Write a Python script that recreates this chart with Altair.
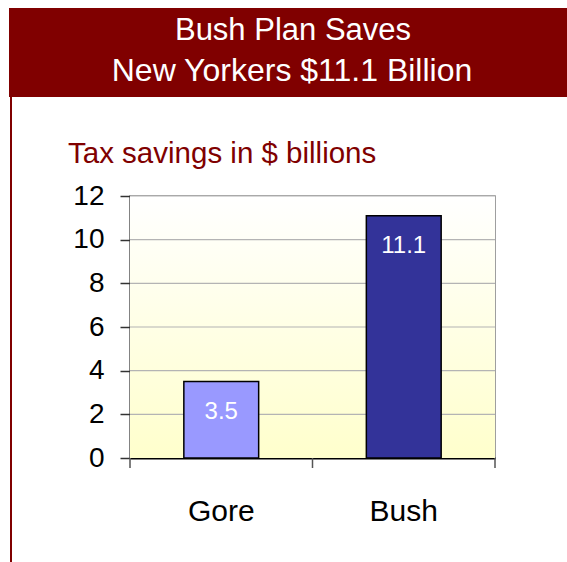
import altair as alt
import pandas as pd

candidates = ["Gore", "Bush"]
savings = [3.5, 11.1]
bar_colors = ["#9999FF", "#333399"]
y_ticks = [0, 2, 4, 6, 8, 10, 12]
title_lines = ["Bush Plan Saves", "New Yorkers $11.1 Billion"]
axis_title = "Tax savings in $ billions"

W, H = 365, 262
FONT = "Liberation Sans"
DARKRED = "#800000"

df = pd.DataFrame({"candidate": candidates, "savings": savings,
                   "label": [f"{v:.1f}" for v in savings]})
grid_df = pd.DataFrame({"savings": y_ticks[1:]})

y_scale = alt.Scale(domain=[0, 12], nice=False)

x_enc = alt.X("candidate:N", sort=candidates,
              scale=alt.Scale(paddingInner=0.59, paddingOuter=0.295),
              axis=alt.Axis(title=None, labelAngle=0, labelFontSize=30, labelFont=FONT,
                            labelColor="black", labelPadding=38, ticks=False,
                            domainColor="black", domainWidth=2))
y_enc = alt.Y("savings:Q", scale=y_scale,
              axis=alt.Axis(title=None, values=y_ticks, labelFontSize=28, labelFont=FONT,
                            labelColor="black", labelPadding=16, tickSize=10,
                            tickColor="#333", domainColor="#333", domainWidth=1.5,
                            grid=False, tickWidth=1.5))

one = pd.DataFrame({"a": [0]})

bg = alt.Chart(one).mark_rect(
    color=alt.Gradient(gradient="linear", x1=0, y1=0, x2=0, y2=1,
                       stops=[alt.GradientStop(offset=0, color="#FFFFFF"),
                              alt.GradientStop(offset=1, color="#FFFFCC")])
).encode(x=alt.value(0), x2=alt.value(W), y=alt.value(0), y2=alt.value(H))

grid = alt.Chart(grid_df).mark_rule(color="#b4b4b4", strokeWidth=1.2).encode(
    y=alt.Y("savings:Q", scale=y_scale), x=alt.value(0), x2=alt.value(W))

bars = alt.Chart(df).mark_bar(stroke="black", strokeWidth=1.5).encode(
    x=x_enc, y=y_enc,
    color=alt.Color("candidate:N", sort=candidates,
                    scale=alt.Scale(domain=candidates, range=bar_colors), legend=None),
)

labels = alt.Chart(df).mark_text(color="white", fontSize=24, font=FONT,
                                 baseline="alphabetic", dy=37).encode(
    x=alt.X("candidate:N", sort=candidates), y=alt.Y("savings:Q"), text="label:N")

# category-boundary ticks below the baseline
tick_l = alt.Chart(one).mark_rule(color="#555", strokeWidth=1.5).encode(
    x=alt.value(0), y=alt.value(H), y2=alt.value(H + 10))
tick_m = alt.Chart(one).mark_rule(color="#555", strokeWidth=1.5).encode(
    x=alt.value(W / 2), y=alt.value(H), y2=alt.value(H + 10))
tick_r = alt.Chart(one).mark_rule(color="#555", strokeWidth=1.5).encode(
    x=alt.value(W), y=alt.value(H), y2=alt.value(H + 10))

banner = alt.Chart(one).mark_rect(color=DARKRED).encode(
    x=alt.value(-121), x2=alt.value(W + 80), y=alt.value(-188), y2=alt.value(-99))

left_line = alt.Chart(one).mark_rule(color=DARKRED, strokeWidth=2).encode(
    x=alt.value(-119), y=alt.value(-99), y2=alt.value(H + 110))

t1 = alt.Chart(pd.DataFrame({"t": [title_lines[0]]})).mark_text(
    color="white", fontSize=31, font=FONT, align="center", baseline="alphabetic").encode(
    x=alt.value(163), y=alt.value(-156), text="t:N")
t2 = alt.Chart(pd.DataFrame({"t": [title_lines[1]]})).mark_text(
    color="white", fontSize=32, font=FONT, align="center", baseline="alphabetic").encode(
    x=alt.value(162), y=alt.value(-115), text="t:N")
yt = alt.Chart(pd.DataFrame({"t": [axis_title]})).mark_text(
    color=DARKRED, fontSize=29.5, font=FONT, align="left", baseline="alphabetic").encode(
    x=alt.value(-62), y=alt.value(-33), text="t:N")

chart = alt.layer(bg, grid, banner, left_line, bars, labels, tick_l, tick_m, tick_r,
                  t1, t2, yt).properties(
    width=W, height=H,
    autosize=alt.AutoSizeParams(type="none"),
    padding={"left": 130, "top": 196, "right": 72, "bottom": 104},
    background="white",
).configure_view(
    stroke="#808080", strokeWidth=1.5,
)

chart.save("out.html", embed_options={"renderer": "svg", "actions": False})
